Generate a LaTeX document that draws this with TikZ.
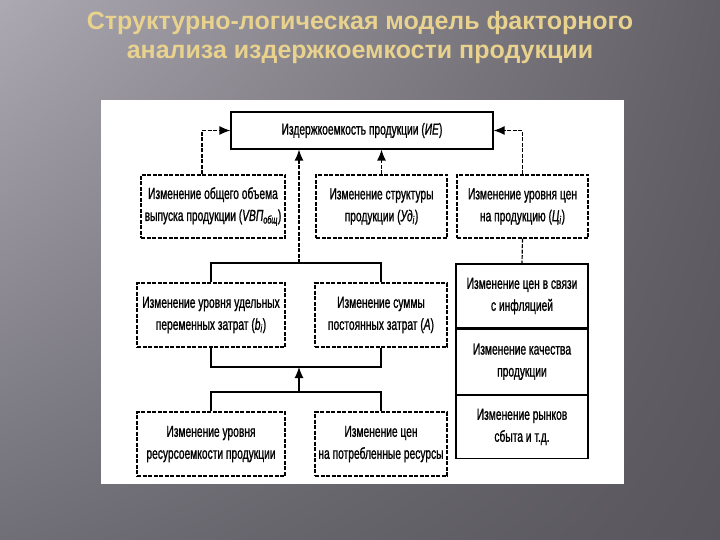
\documentclass[tikz,border=0pt]{standalone}
\usepackage{fontspec}
\setmainfont{Liberation Sans}
\newfontfamily\diagfont[FakeStretch=0.64, FakeBold=1]{Liberation Sans}
\usepackage{tikz}
\usetikzlibrary{arrows.meta, positioning, calc, shadings}
\definecolor{titlecol}{RGB}{232,210,142}
\definecolor{bgul}{RGB}{172,169,178}
\definecolor{bgll}{RGB}{112,110,118}
\definecolor{bgur}{RGB}{98,95,102}
\definecolor{bglr}{RGB}{88,86,92}

\begin{document}
\begin{tikzpicture}[x=1pt, y=-1pt,
    n/.style={draw, line width=1.2pt, dash pattern=on 4pt off 1.5pt, fill=white, align=center,
      inner sep=0pt, font=\diagfont\fontsize{16}{22}\selectfont},
    ns/.style={n, solid},
    a/.style={line width=1.2pt, dash pattern=on 4pt off 1.5pt, -{Latex[length=11pt,width=9pt]}},
    l/.style={line width=1.2pt}]
        \useasboundingbox (0,0) rectangle (720,540);
        \shade[upper left=bgul, lower left=bgll, upper right=bgur, lower right=bglr] (0,0) rectangle (720,540);
        \fill[white] (101,100) rectangle (624,484);

        \node[font=\bfseries\fontsize{25}{29.5}\selectfont, text=titlecol, align=center] (title) at (360,37.5)
        {Структурно-логическая модель факторного\\анализа издержкоемкости продукции};

        % верхний уровень
        \node[ns, minimum width=262pt, minimum height=37pt] (ie) at (362,130.5) {Издержкоемкость продукции (\textit{ИЕ})};
        \node[n, minimum width=144pt, minimum height=63pt] (vvp) at (213,206.5)
        {Изменение общего объема\\выпуска продукции (\textit{VВП}\textsubscript{\textit{общ}})};
        \node[n, minimum width=131pt, minimum height=63pt] (ud) at (381.5,206.5)
        {Изменение структуры\\продукции (\textit{Уд}\textsubscript{\textit{i}})};
        \node[n, minimum width=131pt, minimum height=63pt] (ceny) at (522.5,206.5)
        {Изменение уровня цен\\на продукцию (\textit{Ц}\textsubscript{\textit{i}})};

        % затраты
        \node[n, minimum width=148pt, minimum height=64pt] (bi) at (211,315)
        {Изменение уровня удельных\\переменных затрат (\textit{b}\textsubscript{\textit{i}})};
        \node[n, minimum width=132pt, minimum height=64pt] (A) at (381,315)
        {Изменение суммы\\постоянных затрат (\textit{A})};
        \node[n, minimum width=148pt, minimum height=64pt] (res) at (211,444)
        {Изменение уровня\\ресурсоемкости продукции};
        \node[n, minimum width=132pt, minimum height=64pt] (potr) at (381,444)
        {Изменение цен\\на потребленные ресурсы};

        % цены
        \node[ns, minimum width=132pt, minimum height=64pt] (inf) at (522,296) {Изменение цен в связи\\с инфляцией};
        \node[ns, minimum width=132pt, minimum height=65pt, below=0pt of inf] (kach) {Изменение качества\\продукции};
        \node[ns, minimum width=132pt, minimum height=63pt, below=0pt of kach] (ryn) {Изменение рынков\\сбыта и т.д.};

        \coordinate (up) at (299,263);
        \coordinate (lo) at (299,367);
        \coordinate (bot) at (299,392);

        \draw[a] ([xshift=-11pt]vvp.north) |- (ie.west);
        \draw[a] (ceny.north) |- (ie.east);
        \draw[a] (ud.north) -- (ud.north |- ie.south);
        \draw[a] (up) -- (up |- ie.south);
        \draw[l] (bi.north) |- (up) -| (A.north);
        \draw[l] (bi.south) |- (lo) -| (A.south);
        \draw[l] (res.north) |- (bot) -| (potr.north);
        \draw[a, solid] (bot) -- (lo);
        \draw[l, dash pattern=on 4pt off 1.5pt] (ceny.south) -- (inf.north);
      \end{tikzpicture}
\end{document}
